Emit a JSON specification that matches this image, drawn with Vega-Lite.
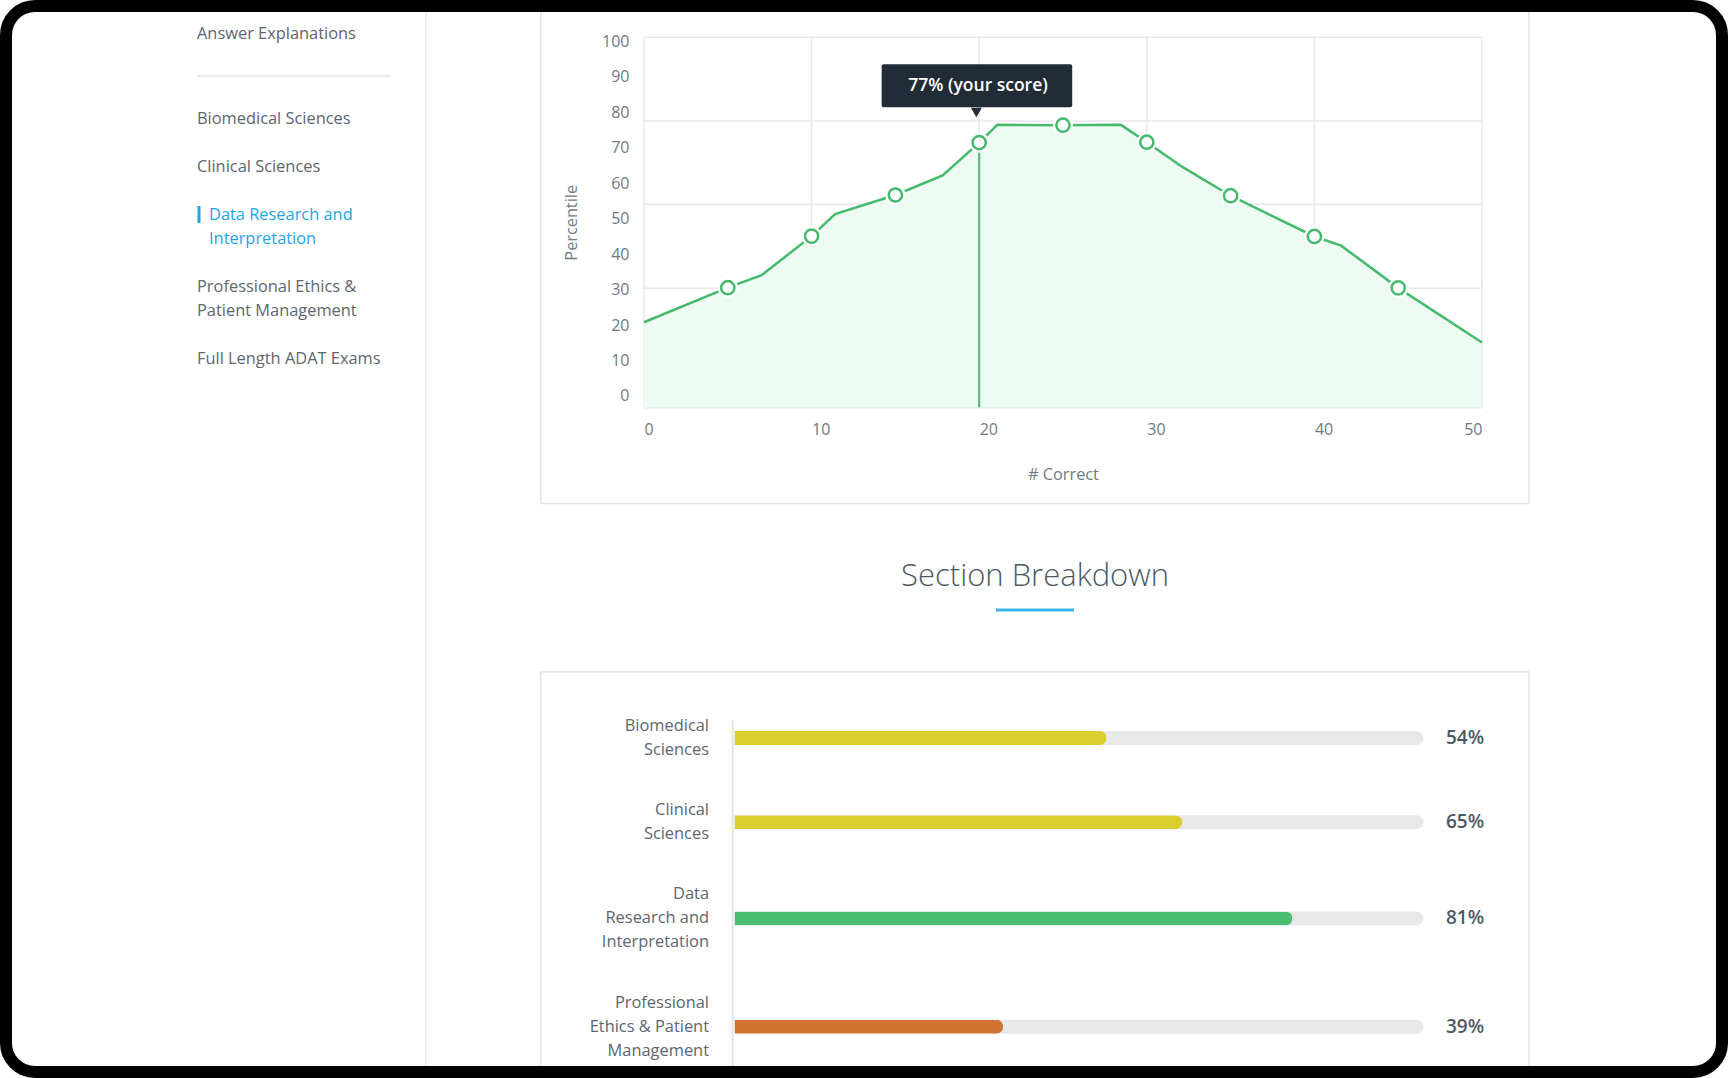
{
  "$schema": "https://vega.github.io/schema/vega-lite/v6.json",
  "width": 1716,
  "height": 1066,
  "padding": 6,
  "autosize": {"type": "none"},
  "background": "#ffffff",
  "config": {
    "view": {"stroke": "#000000", "strokeWidth": 12, "cornerRadius": 29, "fill": "#ffffff"},
    "font": "Open Sans"
  },
  "datasets": {
    "one": [{}],
    "curve": [
      {"n": 0, "pct": 20.8}, {"n": 5, "pct": 30.55}, {"n": 7.02, "pct": 34.1}, {"n": 10, "pct": 45.1},
      {"n": 11.4, "pct": 51.3}, {"n": 15, "pct": 56.7}, {"n": 17.82, "pct": 62.2}, {"n": 20, "pct": 71.5},
      {"n": 21.08, "pct": 76.5}, {"n": 25, "pct": 76.4}, {"n": 28.46, "pct": 76.5}, {"n": 30, "pct": 71.6},
      {"n": 32.1, "pct": 64.7}, {"n": 35, "pct": 56.5}, {"n": 40, "pct": 45.0}, {"n": 41.6, "pct": 42.4},
      {"n": 45, "pct": 30.5}, {"n": 50, "pct": 15.1}
    ],
    "nav": [
      {"item": "Biomedical Sciences", "active": false},
      {"item": "Clinical Sciences", "active": false},
      {"item": "Data Research and\nInterpretation", "active": true},
      {"item": "Professional Ethics &\nPatient Management", "active": false},
      {"item": "Full Length ADAT Exams", "active": false}
    ],
    "sections": [
      {"section": "Biomedical\nSciences", "pct": 54},
      {"section": "Clinical\nSciences", "pct": 65},
      {"section": "Data\nResearch and\nInterpretation", "pct": 81},
      {"section": "Professional\nEthics & Patient\nManagement", "pct": 39}
    ]
  },
  "layer": [
    {
      "layer": [
        {
          "data": {"name": "one"},
          "mark": {"type": "rule", "color": "#ebebeb", "strokeWidth": 1.5},
          "encoding": {
            "x": {"datum": 1.18, "type": "quantitative", "scale": {"domain": [0, 1], "range": [191, 385], "nice": false, "zero": false, "padding": 0}, "axis": null},
            "y": {"datum": -2.958, "type": "quantitative", "scale": {"domain": [1.5, 11.5], "range": [113, 353], "nice": false, "zero": false, "padding": 0}, "axis": null},
            "y2": {"datum": 40.96}
          }
        },
        {
          "data": {"name": "one"},
          "mark": {"type": "rule", "color": "#ececec", "strokeWidth": 2},
          "encoding": {
            "x": {"datum": 0, "type": "quantitative", "axis": null},
            "x2": {"datum": 1},
            "y": {"datum": -0.292, "type": "quantitative", "axis": null}
          }
        },
        {
          "data": {"name": "one"},
          "mark": {"type": "text", "text": "Answer Explanations", "align": "left", "baseline": "middle", "fontSize": 16.4, "color": "#5c6670"},
          "encoding": {
            "x": {"datum": 0, "type": "quantitative", "axis": null},
            "y": {"datum": -2.054, "type": "quantitative", "axis": null}
          }
        },
        {
          "data": {"name": "nav"},
          "transform": [
            {"calculate": "length(split(datum.item, '\\n'))", "as": "lines"},
            {"window": [{"op": "sum", "field": "lines", "as": "cum"}, {"op": "row_number", "as": "rank"}]},
            {"calculate": "datum.cum - datum.lines + 0.5 + datum.rank", "as": "firstLine"}
          ],
          "layer": [
            {
              "transform": [{"filter": "!datum.active"}],
              "mark": {"type": "text", "align": "left", "baseline": "middle", "fontSize": 16.4, "lineHeight": 24, "lineBreak": "\n", "color": "#5c6670"},
              "encoding": {
                "x": {"datum": 0, "type": "quantitative", "axis": null},
                "y": {"field": "firstLine", "type": "quantitative", "axis": null},
                "text": {"field": "item"}
              }
            },
            {
              "transform": [{"filter": "datum.active"}],
              "mark": {"type": "text", "align": "left", "baseline": "middle", "dx": 12, "fontSize": 16.4, "lineHeight": 24, "lineBreak": "\n", "color": "#1ea5e9"},
              "encoding": {
                "x": {"datum": 0, "type": "quantitative", "axis": null},
                "y": {"field": "firstLine", "type": "quantitative", "axis": null},
                "text": {"field": "item"}
              }
            }
          ]
        },
        {
          "data": {"name": "one"},
          "mark": {"type": "rule", "color": "#1ea5e9", "strokeWidth": 3},
          "encoding": {
            "x": {"datum": 0.0103, "type": "quantitative", "axis": null},
            "y": {"datum": 5.125, "type": "quantitative", "axis": null},
            "y2": {"datum": 5.833}
          }
        }
      ]
    },
    {
      "layer": [
        {
          "data": {"name": "one"},
          "mark": {"type": "rule", "color": "#e3e3e3", "strokeWidth": 1.5},
          "encoding": {
            "x": {"datum": -6.158, "type": "quantitative", "scale": {"domain": [0, 50], "range": [638, 1476], "nice": false, "zero": false, "padding": 0}},
            "y": {"datum": -30.34, "type": "quantitative", "scale": {"domain": [-3.2, 101.2], "range": [401.3, 31.3], "nice": false, "zero": false, "padding": 0}},
            "y2": {"datum": 108.34}
          }
        },
        {
          "data": {"name": "one"},
          "mark": {"type": "rule", "color": "#e3e3e3", "strokeWidth": 1.5},
          "encoding": {"x": {"datum": 52.8, "type": "quantitative"}, "y": {"datum": -30.34, "type": "quantitative"}, "y2": {"datum": 108.34}}
        },
        {
          "data": {"name": "one"},
          "mark": {"type": "rule", "color": "#e3e3e3", "strokeWidth": 1.5},
          "encoding": {"x": {"datum": -6.158, "type": "quantitative"}, "x2": {"datum": 52.8}, "y": {"datum": -30.34, "type": "quantitative"}}
        },
        {
          "data": {"name": "one"},
          "mark": {"type": "rule", "color": "#e8e8e8", "strokeWidth": 1.5},
          "encoding": {"x": {"datum": 0, "type": "quantitative"}, "x2": {"datum": 50}, "y": {"datum": 101.2, "type": "quantitative"}}
        },
        {
          "data": {"name": "one"},
          "mark": {"type": "rule", "color": "#e8e8e8", "strokeWidth": 1.5},
          "encoding": {"x": {"datum": 0, "type": "quantitative"}, "x2": {"datum": 50}, "y": {"datum": 77.6, "type": "quantitative"}}
        },
        {
          "data": {"name": "one"},
          "mark": {"type": "rule", "color": "#e8e8e8", "strokeWidth": 1.5},
          "encoding": {"x": {"datum": 0, "type": "quantitative"}, "x2": {"datum": 50}, "y": {"datum": 54.1, "type": "quantitative"}}
        },
        {
          "data": {"name": "one"},
          "mark": {"type": "rule", "color": "#e8e8e8", "strokeWidth": 1.5},
          "encoding": {"x": {"datum": 0, "type": "quantitative"}, "x2": {"datum": 50}, "y": {"datum": 30.4, "type": "quantitative"}}
        },
        {
          "data": {"name": "one"},
          "mark": {"type": "rule", "color": "#e8e8e8", "strokeWidth": 1.5},
          "encoding": {"x": {"datum": 0, "type": "quantitative"}, "y": {"datum": -3.2, "type": "quantitative"}, "y2": {"datum": 101.2}}
        },
        {
          "data": {"name": "one"},
          "mark": {"type": "rule", "color": "#e8e8e8", "strokeWidth": 1.5},
          "encoding": {"x": {"datum": 10, "type": "quantitative"}, "y": {"datum": -3.2, "type": "quantitative"}, "y2": {"datum": 101.2}}
        },
        {
          "data": {"name": "one"},
          "mark": {"type": "rule", "color": "#e8e8e8", "strokeWidth": 1.5},
          "encoding": {"x": {"datum": 20, "type": "quantitative"}, "y": {"datum": -3.2, "type": "quantitative"}, "y2": {"datum": 101.2}}
        },
        {
          "data": {"name": "one"},
          "mark": {"type": "rule", "color": "#e8e8e8", "strokeWidth": 1.5},
          "encoding": {"x": {"datum": 30, "type": "quantitative"}, "y": {"datum": -3.2, "type": "quantitative"}, "y2": {"datum": 101.2}}
        },
        {
          "data": {"name": "one"},
          "mark": {"type": "rule", "color": "#e8e8e8", "strokeWidth": 1.5},
          "encoding": {"x": {"datum": 40, "type": "quantitative"}, "y": {"datum": -3.2, "type": "quantitative"}, "y2": {"datum": 101.2}}
        },
        {
          "data": {"name": "one"},
          "mark": {"type": "rule", "color": "#e8e8e8", "strokeWidth": 1.5},
          "encoding": {"x": {"datum": 50, "type": "quantitative"}, "y": {"datum": -3.2, "type": "quantitative"}, "y2": {"datum": 101.2}}
        },
        {
          "data": {"name": "curve"},
          "layer": [
            {
              "mark": {"type": "area", "color": "#edfbf3", "opacity": 1},
              "encoding": {
                "x": {
                  "field": "n", "type": "quantitative",
                  "axis": {
                    "orient": "bottom", "offset": -664.7, "values": [0, 10, 20, 30, 40, 50],
                    "labelAlign": {"expr": "datum.value >= 50 ? 'right' : 'left'"}, "labelOverlap": false,
                    "grid": false,
                    "domain": true, "domainColor": "#e8e8e8", "domainWidth": 1.5,
                    "ticks": false, "tickSize": 0, "labelPadding": 14.5,
                    "labelFontSize": 16, "labelColor": "#6f7a84", "labelFont": "Open Sans",
                    "title": "# Correct", "titleFont": "Open Sans", "titleFontSize": 16.3,
                    "titleFontWeight": "normal", "titleColor": "#6f7a84", "titlePadding": 29
                  }
                },
                "y": {
                  "field": "pct", "type": "quantitative",
                  "axis": {
                    "orient": "left", "offset": -638, "values": [0, 10, 20, 30, 40, 50, 60, 70, 80, 90, 100],
                    "grid": false, "domain": false, "ticks": false, "tickSize": 0, "labelPadding": 15,
                    "labelFontSize": 16, "labelColor": "#6f7a84", "labelFont": "Open Sans",
                    "title": "Percentile", "titleFont": "Open Sans", "titleFontSize": 16.3,
                    "titleFontWeight": "normal", "titleColor": "#6f7a84", "titlePadding": 22
                  }
                },
                "y2": {"datum": -3.2}
              }
            },
            {
              "mark": {"type": "line", "color": "#45b96c", "strokeWidth": 2.5},
              "encoding": {
                "x": {"field": "n", "type": "quantitative"},
                "y": {"field": "pct", "type": "quantitative"}
              }
            },
            {
              "transform": [{"filter": "datum.n === 20"}],
              "mark": {"type": "rule", "color": "#45b96c", "strokeWidth": 2},
              "encoding": {
                "x": {"field": "n", "type": "quantitative"},
                "y": {"field": "pct", "type": "quantitative"},
                "y2": {"datum": -3.2}
              }
            },
            {
              "transform": [{"filter": "datum.n % 5 === 0 && datum.n > 0 && datum.n < 50"}],
              "mark": {"type": "point", "shape": "circle", "filled": true, "fill": "#ffffff", "stroke": "#ffffff", "strokeWidth": 7, "size": 175, "opacity": 1},
              "encoding": {
                "x": {"field": "n", "type": "quantitative"},
                "y": {"field": "pct", "type": "quantitative"}
              }
            },
            {
              "transform": [{"filter": "datum.n % 5 === 0 && datum.n > 0 && datum.n < 50"}],
              "mark": {"type": "point", "shape": "circle", "filled": true, "fill": "#ffffff", "stroke": "#45b96c", "strokeWidth": 2.5, "size": 175, "opacity": 1},
              "encoding": {
                "x": {"field": "n", "type": "quantitative"},
                "y": {"field": "pct", "type": "quantitative"}
              }
            }
          ]
        },
        {
          "data": {"name": "one"},
          "mark": {"type": "rect", "color": "#212c36", "cornerRadius": 2},
          "encoding": {
            "x": {"datum": 14.18, "type": "quantitative"}, "x2": {"datum": 25.55},
            "y": {"datum": 93.58, "type": "quantitative"}, "y2": {"datum": 81.45}
          }
        },
        {
          "data": {"name": "one"},
          "mark": {"type": "point", "shape": "triangle-down", "filled": true, "color": "#212c36", "size": 121, "opacity": 1},
          "encoding": {
            "x": {"datum": 19.83, "type": "quantitative"},
            "y": {"datum": 79.98, "type": "quantitative"}
          }
        },
        {
          "data": {"name": "one"},
          "mark": {"type": "text", "text": "77% (your score)", "align": "center", "baseline": "middle", "fontSize": 17.5, "fontWeight": 600, "color": "#ffffff"},
          "encoding": {
            "x": {"datum": 19.93, "type": "quantitative"},
            "y": {"datum": 87.5, "type": "quantitative"}
          }
        }
      ]
    },
    {
      "layer": [
        {
          "data": {"name": "one"},
          "mark": {"type": "text", "text": "Section Breakdown", "align": "center", "baseline": "middle", "fontSize": 31, "fontWeight": 300, "color": "#4d5968"},
          "encoding": {
            "x": {"datum": 43.63, "type": "quantitative", "scale": {"domain": [0, 100], "range": [728.5, 1417.3], "nice": false, "zero": false, "padding": 0}, "axis": null},
            "y": {"datum": -5.692, "type": "quantitative", "scale": {"domain": [1, 13], "range": [732, 1020.7], "nice": false, "zero": false, "padding": 0}, "axis": null}
          }
        },
        {
          "data": {"name": "one"},
          "mark": {"type": "rule", "color": "#3cb4e6", "strokeWidth": 3},
          "encoding": {
            "x": {"datum": 37.96, "type": "quantitative", "axis": null}, "x2": {"datum": 49.29},
            "y": {"datum": -4.32, "type": "quantitative", "axis": null}
          }
        },
        {
          "data": {"name": "one"},
          "mark": {"type": "rule", "color": "#e3e3e3", "strokeWidth": 1.5},
          "encoding": {
            "x": {"datum": -28.17, "type": "quantitative", "axis": null},
            "y": {"datum": -1.756, "type": "quantitative", "axis": null}, "y2": {"datum": 14.63}
          }
        },
        {
          "data": {"name": "one"},
          "mark": {"type": "rule", "color": "#e3e3e3", "strokeWidth": 1.5},
          "encoding": {
            "x": {"datum": 115.35, "type": "quantitative", "axis": null},
            "y": {"datum": -1.756, "type": "quantitative", "axis": null}, "y2": {"datum": 14.63}
          }
        },
        {
          "data": {"name": "one"},
          "mark": {"type": "rule", "color": "#e3e3e3", "strokeWidth": 1.5},
          "encoding": {
            "x": {"datum": -28.17, "type": "quantitative", "axis": null}, "x2": {"datum": 115.35},
            "y": {"datum": -1.756, "type": "quantitative", "axis": null}
          }
        },
        {
          "data": {"name": "one"},
          "mark": {"type": "rule", "color": "#e4e4e4", "strokeWidth": 2},
          "encoding": {
            "x": {"datum": -0.276, "type": "quantitative", "axis": null},
            "y": {"datum": 0.252, "type": "quantitative", "axis": null}, "y2": {"datum": 14.63}
          }
        },
        {
          "data": {"name": "sections"},
          "transform": [
            {"calculate": "length(split(datum.section, '\\n'))", "as": "lines"},
            {"window": [{"op": "sum", "field": "lines", "as": "cum"}, {"op": "row_number", "as": "rank"}]},
            {"calculate": "datum.cum - datum.lines / 2 + (datum.rank - 1) * 1.5", "as": "slot"},
            {"calculate": "datum.slot - (datum.lines - 1) / 2", "as": "firstLine"},
            {"calculate": "datum.pct + '%'", "as": "pctLabel"}
          ],
          "layer": [
            {
              "mark": {"type": "bar", "orient": "horizontal", "height": 14, "cornerRadiusEnd": 7, "color": "#e8e8e8"},
              "encoding": {
                "x": {"datum": 100, "type": "quantitative", "axis": null},
                "y": {"field": "slot", "type": "quantitative", "axis": null}
              }
            },
            {
              "mark": {"type": "bar", "orient": "horizontal", "height": 14, "cornerRadiusEnd": 7},
              "encoding": {
                "x": {"field": "pct", "type": "quantitative", "axis": null},
                "y": {"field": "slot", "type": "quantitative", "axis": null},
                "color": {"field": "pct", "type": "quantitative", "scale": {"type": "threshold", "domain": [50, 75], "range": ["#d27232", "#dacf2e", "#4abd72"]}, "legend": null}
              }
            },
            {
              "mark": {"type": "text", "align": "right", "baseline": "middle", "dx": -25.5, "fontSize": 16.4, "lineHeight": 24, "lineBreak": "\n", "color": "#5c6670"},
              "encoding": {
                "x": {"datum": 0, "type": "quantitative", "axis": null},
                "y": {"field": "firstLine", "type": "quantitative", "axis": null},
                "text": {"field": "section"}
              }
            },
            {
              "mark": {"type": "text", "align": "left", "baseline": "middle", "dx": 22.7, "fontSize": 19, "fontWeight": 600, "color": "#4d5866"},
              "encoding": {
                "x": {"datum": 100, "type": "quantitative", "axis": null},
                "y": {"field": "slot", "type": "quantitative", "axis": null},
                "text": {"field": "pctLabel"}
              }
            }
          ]
        }
      ]
    }
  ],
  "resolve": {"scale": {"x": "independent", "y": "independent", "color": "independent"}}
}
